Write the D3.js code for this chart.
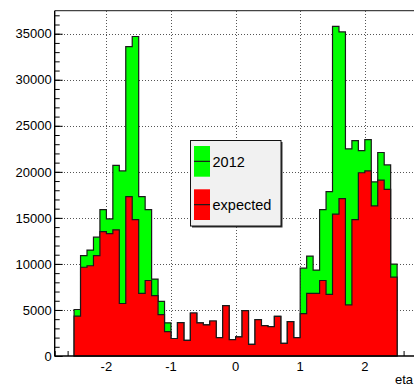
<!DOCTYPE html>
<html>
<head>
<meta charset="utf-8">
<script src="https://cdn.jsdelivr.net/npm/d3@7"></script>
<style>
  html, body { margin: 0; padding: 0; background: #fff; }
  svg { display: block; }
  text { font-family: "Liberation Sans", Arial, Helvetica, sans-serif; fill: #000; }
</style>
</head>
<body>
<svg id="chart" width="414" height="385"></svg>
<script>
// eta histogram binning
const etaMin = -2.5;
const binWidth = 0.1;

// observed 2012 counts per eta bin (50 bins from -2.5 to 2.5)
const counts2012 = [
  5050, 10900, 11500, 12900, 15900, 14900, 20700, 20100, 33600, 34700,
  17300, 15900, 8350, 5940, 3600, 1900, 3620, 1700, 4670, 3590,
  3370, 3800, 2000, 5470, 1780, 2070, 4930, 1270, 3950, 3300,
  3190, 4310, 1380, 3730, 2000, 9540, 10850, 9330, 15900, 17850,
  35800, 35200, 22500, 23400, 22300, 23500, 18900, 22100, 20750, 9980
];

// expected counts per eta bin
const countsExpected = [
  4330, 9640, 9800, 10900, 13500, 13300, 13700, 5700, 17300, 14800,
  6800, 8200, 6550, 4500, 2650, 1900, 3620, 1700, 4670, 3590,
  3370, 3800, 2000, 5470, 1780, 2070, 4930, 1270, 3950, 3300,
  3190, 4310, 1380, 3730, 2000, 4600, 6800, 6800, 8200, 6700,
  15400, 17100, 5550, 14800, 19900, 20100, 16300, 19100, 18100, 8560
];

// axis tick values and labels
const xMajorTicks = [-2, -1, 0, 1, 2];
const yMajorTicks = [0, 5000, 10000, 15000, 20000, 25000, 30000, 35000];
const xTitle = "eta";
const legendLabels = ["2012", "expected"];

const svg = d3.select("#chart");

const frame = { left: 54.7, right: 416.5, top: 10.7, bottom: 356 };
const x = d3.scaleLinear().domain([-2.8, 2.8]).range([frame.left, frame.right]);
const y = d3.scaleLinear().domain([0, 37500]).range([frame.bottom, frame.top]);

// dotted grid at the major ticks
const grid = svg.append("g").attr("stroke", "#555").attr("stroke-width", 1)
  .attr("stroke-dasharray", "1,2").attr("shape-rendering", "crispEdges");
xMajorTicks.forEach(v => {
  grid.append("line").attr("x1", Math.round(x(v)) + 0.5).attr("x2", Math.round(x(v)) + 0.5)
    .attr("y1", frame.top).attr("y2", frame.bottom);
});
yMajorTicks.filter(v => v > 0).forEach(v => {
  grid.append("line").attr("y1", Math.round(y(v)) + 0.5).attr("y2", Math.round(y(v)) + 0.5)
    .attr("x1", frame.left).attr("x2", frame.right);
});

// x axis: ticks point up into the frame (minor every 0.2, major every 1)
const xAxis = d3.axisTop(x)
  .tickValues(d3.range(-28, 29, 2).map(d => d / 10))
  .tickSize(5).tickFormat("");
svg.append("g").attr("transform", `translate(0,${frame.bottom})`).call(xAxis)
  .call(g => g.select(".domain").remove())
  .call(g => g.selectAll("line").attr("stroke", "#000"));
svg.append("g").attr("transform", `translate(0,${frame.bottom})`)
  .call(d3.axisTop(x).tickValues(xMajorTicks).tickSize(9).tickFormat(""))
  .call(g => g.select(".domain").remove())
  .call(g => g.selectAll("line").attr("stroke", "#000"));

// step histogram path built from bin counts
function stepPath(counts) {
  const p = d3.path();
  p.moveTo(x(etaMin), y(0));
  counts.forEach((c, i) => {
    const x0 = x(etaMin + i * binWidth);
    const x1 = x(etaMin + (i + 1) * binWidth);
    p.lineTo(x0, y(c));
    p.lineTo(x1, y(c));
  });
  p.lineTo(x(etaMin + counts.length * binWidth), y(0));
  p.closePath();
  return p.toString();
}

svg.append("path").attr("d", stepPath(counts2012))
  .attr("fill", "#00ff00").attr("stroke", "#1a1a1a").attr("stroke-width", 1.2)
  .attr("stroke-linejoin", "miter");
svg.append("path").attr("d", stepPath(countsExpected))
  .attr("fill", "#ff0000").attr("stroke", "#1a1a1a").attr("stroke-width", 1.2)
  .attr("stroke-linejoin", "miter");

// y axis on the left, ticks pointing right
const yMinor = d3.range(0, 37501, 1000);
svg.append("g").attr("transform", `translate(${frame.left},0)`)
  .call(d3.axisRight(y).tickValues(yMinor).tickSize(5).tickFormat(""))
  .call(g => g.select(".domain").remove())
  .call(g => g.selectAll("line").attr("stroke", "#000"));
svg.append("g").attr("transform", `translate(${frame.left},0)`)
  .call(d3.axisRight(y).tickValues(yMajorTicks).tickSize(8).tickFormat(""))
  .call(g => g.select(".domain").remove())
  .call(g => g.selectAll("line").attr("stroke", "#000"));

// y tick labels
svg.append("g").selectAll("text").data(yMajorTicks).join("text")
  .attr("x", frame.left - 3).attr("y", d => y(d)).attr("dy", "0.36em")
  .attr("text-anchor", "end").attr("font-size", 13).text(d => d);

// x tick labels
svg.append("g").selectAll("text").data(xMajorTicks).join("text")
  .attr("x", d => x(d)).attr("y", 370.5)
  .attr("text-anchor", "middle").attr("font-size", 13).text(d => d);

// x axis title near the right end of the axis
svg.append("text").attr("x", 413).attr("y", 383.5)
  .attr("text-anchor", "end").attr("font-size", 13).text(xTitle);

// frame lines
svg.append("line").attr("x1", frame.left).attr("x2", frame.right)
  .attr("y1", frame.top).attr("y2", frame.top).attr("stroke", "#444").attr("stroke-width", 1.2);
svg.append("line").attr("x1", frame.left).attr("x2", frame.left)
  .attr("y1", frame.top).attr("y2", frame.bottom).attr("stroke", "#000").attr("stroke-width", 1.4);
svg.append("line").attr("x1", frame.left).attr("x2", frame.right)
  .attr("y1", frame.bottom).attr("y2", frame.bottom).attr("stroke", "#000").attr("stroke-width", 1.6);

// legend
const legend = svg.append("g");
legend.append("rect").attr("x", 192).attr("y", 142).attr("width", 90.5).attr("height", 85.5)
  .attr("fill", "#333");
legend.append("rect").attr("x", 190.5).attr("y", 140.5).attr("width", 90.5).attr("height", 85.5)
  .attr("fill", "#f1f1f1").attr("stroke", "#111").attr("stroke-width", 1);
const entries = [
  { label: legendLabels[0], color: "#00ff00", y0: 146, y1: 176.7 },
  { label: legendLabels[1], color: "#ff0000", y0: 189.3, y1: 220 }
];
entries.forEach(e => {
  legend.append("rect").attr("x", 194).attr("y", e.y0).attr("width", 16).attr("height", e.y1 - e.y0)
    .attr("fill", e.color);
  const ym = (e.y0 + e.y1) / 2;
  legend.append("line").attr("x1", 194).attr("x2", 210).attr("y1", ym).attr("y2", ym)
    .attr("stroke", "#1a1a1a").attr("stroke-width", 1.2);
  legend.append("text").attr("x", 212.5).attr("y", ym).attr("dy", "0.36em")
    .attr("font-size", 14.5).text(e.label);
});
</script>
</body>
</html>
